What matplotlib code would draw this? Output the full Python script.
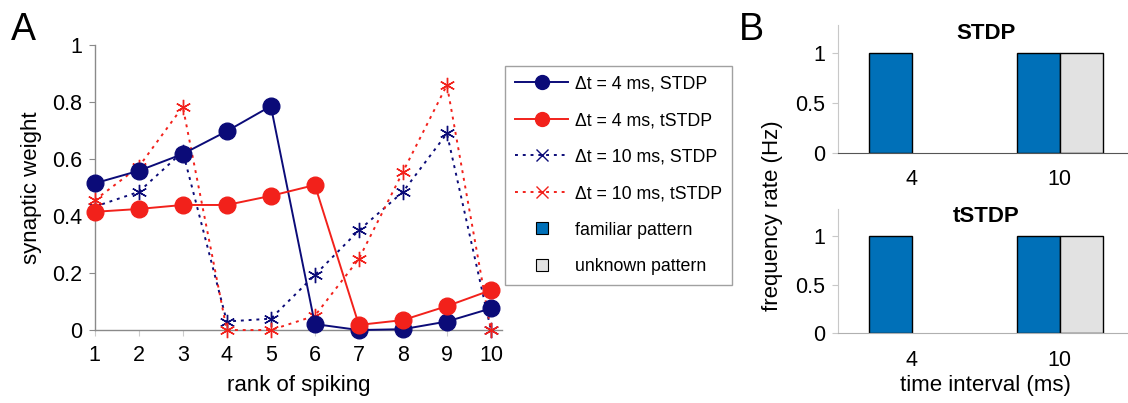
import matplotlib
matplotlib.use('Agg')
import matplotlib.pyplot as plt
from matplotlib.lines import Line2D

plt.rcParams['font.family'] = ['Liberation Sans', 'DejaVu Sans']

# panel A data
rank = [1, 2, 3, 4, 5, 6, 7, 8, 9, 10]
stdp_4ms = [0.515, 0.559, 0.618, 0.698, 0.786, 0.021, 0.0, 0.003, 0.03, 0.076]
tstdp_4ms = [0.415, 0.425, 0.439, 0.439, 0.471, 0.509, 0.018, 0.035, 0.084, 0.14]
stdp_10ms = [0.433, 0.485, 0.626, 0.03, 0.04, 0.193, 0.35, 0.485, 0.69, 0.0]
tstdp_10ms = [0.456, 0.573, 0.784, 0.0, 0.0, 0.05, 0.25, 0.555, 0.86, 0.0]

# panel B data
intervals = ['4', '10']
stdp_familiar = [1, 1]
stdp_unknown = [0, 1]
tstdp_familiar = [1, 1]
tstdp_unknown = [0, 1]

navy = '#0b0b78'
red = '#f2211b'
blue = '#0070b8'
light = '#e2e2e2'
gray = '#8a8a8a'

fig = plt.figure(figsize=(11.28, 4.03), dpi=100)

# ---- panel A ----
ax = fig.add_axes([0.084, 0.181, 0.361, 0.707])
ax.plot(rank, stdp_10ms, color=navy, lw=1.4, ls=(0, (1.5, 2.5)), marker=(6, 2, 0),
        ms=11, mew=1.0, clip_on=False, zorder=3)
ax.plot(rank, tstdp_10ms, color=red, lw=1.4, ls=(0, (1.5, 2.5)), marker=(6, 2, 0),
        ms=11, mew=1.0, clip_on=False, zorder=3)
ax.plot(rank, stdp_4ms, color=navy, lw=1.4, marker='o', ms=12, clip_on=False, zorder=4)
ax.plot(rank, tstdp_4ms, color=red, lw=1.4, marker='o', ms=12, clip_on=False, zorder=5)
ax.set_xlim(1, 10.25)
ax.set_ylim(0, 1)
ax.set_xticks(rank)
ax.set_yticks([0, 0.2, 0.4, 0.6, 0.8, 1])
ax.set_yticklabels(['0', '0.2', '0.4', '0.6', '0.8', '1'])
for s in ['top', 'right']:
    ax.spines[s].set_visible(False)
for s in ['left', 'bottom']:
    ax.spines[s].set_color(gray)
    ax.spines[s].set_linewidth(1.0)
ax.tick_params(axis='y', labelsize=15.5, length=4, color=gray, pad=5)
ax.tick_params(axis='x', labelsize=15.5, length=4, color='#cccccc', pad=7)
ax.set_xlabel('rank of spiking', fontsize=16, labelpad=6)
ax.set_ylabel('synaptic weight', fontsize=16, labelpad=7)
fig.text(0.010, 0.9, 'A', fontsize=27)

# ---- legend ----
handles = [
    Line2D([], [], color=navy, lw=1.4, marker='o', ms=10),
    Line2D([], [], color=red, lw=1.4, marker='o', ms=10),
    Line2D([], [], color=navy, lw=1.4, ls=(0, (1.5, 2.5)), marker='x', ms=8, mew=1.0),
    Line2D([], [], color=red, lw=1.4, ls=(0, (1.5, 2.5)), marker='x', ms=8, mew=1.0),
    Line2D([], [], ls='none', marker='s', ms=9, mfc=blue, mec='black', mew=0.8),
    Line2D([], [], ls='none', marker='s', ms=9, mfc=light, mec='black', mew=0.8),
]
labels = ['Δt = 4 ms, STDP', 'Δt = 4 ms, tSTDP', 'Δt = 10 ms, STDP',
          'Δt = 10 ms, tSTDP', 'familiar pattern', 'unknown pattern']
leg = fig.legend(handles, labels, loc='upper left', bbox_to_anchor=(0.448, 0.837),
                 fontsize=12.8, frameon=True, fancybox=False, edgecolor=gray,
                 handlelength=3.0, handletextpad=0.35, labelspacing=1.1,
                 borderpad=0.55, borderaxespad=0)
leg.get_frame().set_linewidth(1.0)

# ---- panel B ----
w = 0.29
pos = [0, 1]
for rect, fam, unk, title, xcol in [
        ([0.743, 0.621, 0.262, 0.316], stdp_familiar, stdp_unknown, 'STDP', '#555555'),
        ([0.743, 0.173, 0.262, 0.309], tstdp_familiar, tstdp_unknown, 'tSTDP', '#b0b0b0')]:
    bx = fig.add_axes(rect)
    bx.bar([p - w / 2 for p in pos], fam, width=w, color=blue, edgecolor='black',
           lw=[1.0 if v else 0 for v in fam])
    bx.bar([p + w / 2 for p in pos], unk, width=w, color=light, edgecolor='black',
           lw=[1.0 if v else 0 for v in unk])
    bx.set_xlim(-0.5, 1.5)
    bx.set_ylim(0, 1.28)
    bx.set_yticks([0, 0.5, 1])
    bx.set_yticklabels(['0', '0.5', '1'])
    bx.set_xticks(pos)
    bx.set_xticklabels(intervals)
    for s in ['top', 'right']:
        bx.spines[s].set_visible(False)
    bx.spines['left'].set_color('#c8c8c8')
    bx.spines['bottom'].set_color(xcol)
    bx.tick_params(axis='y', labelsize=15.5, length=4, color='#c8c8c8', pad=5)
    bx.tick_params(axis='x', labelsize=15.5, length=0, pad=12)
    bx.text(0.5, 0.94, title, transform=bx.transAxes, fontsize=16, fontweight='bold',
            ha='center', va='center')
    last = bx

last.set_xlabel('time interval (ms)', fontsize=16, labelpad=3)
fig.text(0.685, 0.465, 'frequency rate (Hz)', fontsize=16, rotation=90,
         ha='center', va='center')
fig.text(0.655, 0.9, 'B', fontsize=27)

fig.savefig('out.png', dpi=100)
